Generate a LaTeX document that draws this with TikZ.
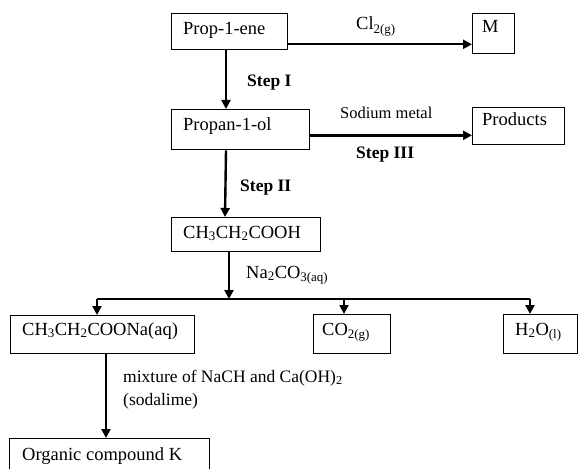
\documentclass[tikz,border=0pt]{standalone}
\usepackage{fontspec}
\setmainfont{Liberation Serif}
\usetikzlibrary{arrows.meta}
\newcommand\sbs[1]{\textsubscript{#1}}
\begin{document}
\begin{tikzpicture}[x=1pt,y=-1pt,
  box/.style={draw,line width=1.3pt,inner sep=0pt,anchor=north west},
  lbl/.style={anchor=base west,inner sep=0pt,font=\fontsize{18.5}{21}\selectfont},
  slbl/.style={lbl,font=\fontsize{17.5}{20}\selectfont},
  nlbl/.style={lbl,font=\fontsize{16.5}{19}\selectfont},
  blbl/.style={lbl,font=\fontsize{17.5}{20}\selectfont\bfseries},
  arr/.style={line width=2.4pt,-{Triangle[length=9pt,width=9pt]}},
  ln/.style={line width=1.8pt}]
\useasboundingbox (0,0) rectangle (580,468);
\clip (0,0) rectangle (580,468);
% boxes
\node[box,minimum width=116pt,minimum height=36pt] (prop) at (171,13) {};
\node[box,minimum width=42pt,minimum height=40pt] (m) at (472,13) {};
\node[box,minimum width=138pt,minimum height=40pt] (propol) at (171,109) {};
\node[box,minimum width=92pt,minimum height=37pt] (prod) at (472,107) {};
\node[box,minimum width=149pt,minimum height=34pt] (acid) at (171,217) {};
\node[box,minimum width=184pt,minimum height=38pt] (salt) at (10,315) {};
\node[box,minimum width=77pt,minimum height=39pt] (co2) at (313,314) {};
\node[box,minimum width=74pt,minimum height=39pt] (h2o) at (503,314) {};
\node[box,minimum width=200pt,minimum height=40pt] (k) at (9,438) {};
% texts
\node[lbl] (tprop) at (183,35) {Prop-1-ene};
\node[lbl] (tm) at (482,33) {M};
\node[lbl] (tpropol) at (183,130) {Propan-1-ol};
\node[lbl] (tprod) at (482,125) {Products};
\node[lbl] (tacid) at (183,238) {CH\sbs{3}CH\sbs{2}COOH};
\node[lbl] (tsalt) at (22,335) {CH\sbs{3}CH\sbs{2}COONa(aq)};
\node[lbl] (tco2) at (322,335) {CO\sbs{2(g)}};
\node[lbl] (th2o) at (515,335) {H\sbs{2}O\sbs{(l)}};
\node[lbl] (tk) at (22,460) {Organic compound K};
% reagent labels
\node[lbl] (cl) at (356,30) {Cl\sbs{2(g)}};
\node[blbl] (s1) at (247,87) {Step I};
\node[nlbl] (na) at (340,118) {Sodium metal};
\node[blbl] (s3) at (356,158) {Step III};
\node[blbl] (s2) at (240,191) {Step II};
\node[lbl] (carb) at (246,278) {Na\sbs{2}CO\sbs{3(aq)}};
\node[slbl] (mix) at (123,382) {mixture of NaCH and Ca(OH)\sbs{2}};
\node[slbl] (soda) at (123,405) {(sodalime)};
% connectors
\draw[arr] ([yshift=6pt]prop.south east) -- ([yshift=10pt]m.south west);
\draw[arr] ([xshift=55pt]prop.south west) -- ([xshift=55pt]propol.north west);
\draw[arr] ([yshift=15pt]propol.south east) -- ([yshift=10pt]prod.south west);
\draw[arr] ([xshift=55pt]propol.south west) -- ([xshift=54pt]acid.north west);
\coordinate (br) at (229,299);
\coordinate (bl) at (97,299);
\coordinate (bc) at (344,299);
\coordinate (bh) at (530,299);
\draw[arr] ([xshift=58pt]acid.south west) -- (br);
\draw[ln] (bl) -- (bh);
\draw[arr] (bl) -- (bl |- salt.north);
\draw[arr] (bc) -- (bc |- co2.north);
\draw[arr] (bh) -- (bh |- h2o.north);
\draw[arr] ([xshift=96pt]salt.south west) -- ([xshift=97pt]k.north west);
\end{tikzpicture}
\end{document}
